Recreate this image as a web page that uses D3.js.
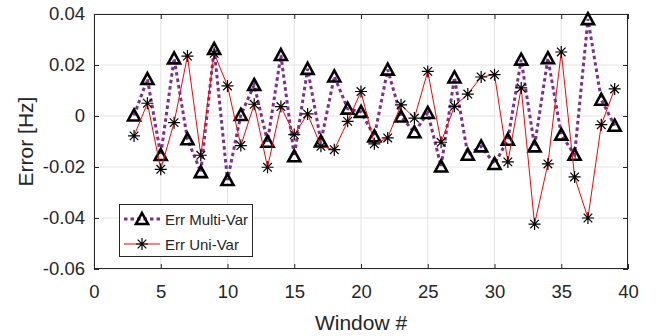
<!DOCTYPE html>
<html><head><meta charset="utf-8">
<script src="https://cdn.jsdelivr.net/npm/d3@7"></script>
<style>body{margin:0;background:#fff}svg{display:block}text{font-family:"Liberation Sans",Arial,sans-serif;fill:#262626}</style>
</head><body>
<script>
const windows = [3,4,5,6,7,8,9,10,11,12,13,14,15,16,17,18,19,20,21,22,23,24,25,26,27,28,29,30,31,32,33,34,35,36,37,38,39];
const errMulti = [0.0002,0.0145,-0.0153,0.0226,-0.0091,-0.0220,0.0263,-0.0251,0.0004,0.0122,-0.0101,0.0239,
  -0.0158,0.0185,-0.0100,0.0155,0.0029,0.0016,-0.0080,0.0182,-0.0002,-0.0064,0.0012,-0.0198,0.0151,-0.0152,
  -0.0119,-0.0188,-0.0093,0.0221,-0.0119,0.0227,-0.0073,-0.0152,0.0380,0.0064,-0.0038];
const errUni = [-0.0078,0.0050,-0.0209,-0.0026,0.0235,-0.0154,0.0246,0.0118,-0.0116,0.0046,-0.0201,0.0037,
  -0.0073,0.0008,-0.0119,-0.0132,-0.0021,0.0096,-0.0109,-0.0086,0.0044,-0.0008,0.0175,-0.0103,0.0038,0.0086,
  0.0153,0.0162,-0.0180,0.0110,-0.0424,-0.0188,0.0251,-0.0239,-0.0400,-0.0034,0.0106];
const xTicks = [0,5,10,15,20,25,30,35,40];
const yTicks = [-0.06,-0.04,-0.02,0,0.02,0.04];
const yTickLabels = ["-0.06","-0.04","-0.02","0","0.02","0.04"];
const seriesNames = ["Err Multi-Var","Err Uni-Var"];

const W=663,H=336;
const L=94,R=628,T=14,B=269;
const svg=d3.select("body").append("svg").attr("width",W).attr("height",H);
const x=d3.scaleLinear().domain([0,40]).range([L,R]);
const y=d3.scaleLinear().domain([-0.06,0.04]).range([B,T]);

// grid
const g=svg.append("g");
g.selectAll(".gx").data(xTicks).join("line").attr("x1",d=>x(d)).attr("x2",d=>x(d)).attr("y1",T).attr("y2",B).attr("stroke","#e3e3e3").attr("stroke-width",1);
g.selectAll(".gy").data(yTicks).join("line").attr("y1",d=>y(d)).attr("y2",d=>y(d)).attr("x1",L).attr("x2",R).attr("stroke","#e3e3e3").attr("stroke-width",1);

// axes
const ax=svg.append("g").attr("transform",`translate(0,${B})`).call(d3.axisBottom(x).tickValues(xTicks).tickSizeInner(-5).tickSizeOuter(0).tickPadding(15.5));
const axT=svg.append("g").attr("transform",`translate(0,${T})`).call(d3.axisTop(x).tickValues(xTicks).tickSizeInner(-5).tickSizeOuter(0).tickFormat(""));
const ay=svg.append("g").attr("transform",`translate(${L},0)`).call(d3.axisLeft(y).tickValues(yTicks).tickFormat((d,i)=>yTickLabels[i]).tickSizeInner(-5).tickSizeOuter(0).tickPadding(9));
const ayR=svg.append("g").attr("transform",`translate(${R},0)`).call(d3.axisRight(y).tickValues(yTicks).tickSizeInner(-5).tickSizeOuter(0).tickFormat(""));
[ax,axT,ay,ayR].forEach(a=>{a.select(".domain").remove();a.selectAll("line").attr("stroke","#262626");a.selectAll("text").style("font-size","18.5px").attr("fill","#262626").style("font-family","Liberation Sans, Arial, sans-serif");});
svg.append("rect").attr("x",L+0.5).attr("y",T+0.5).attr("width",R-L-1).attr("height",B-T-1).attr("fill","none").attr("stroke","#262626").attr("stroke-width",1);

// labels
svg.append("text").attr("x",(L+R)/2).attr("y",330).attr("text-anchor","middle").style("font-size","21px").text("Window #");
svg.append("text").attr("transform",`translate(33,${(T+B)/2}) rotate(-90)`).attr("text-anchor","middle").style("font-size","21px").text("Error [Hz]");

const purple="#7E2F8E";
function tri(sel){sel.attr("d","M0,-6L6,5L-6,5Z").attr("fill","none").attr("stroke","#000").attr("stroke-width",2.6).attr("stroke-linejoin","miter");}
function ast(sel){sel.attr("d","M-6,0H6M0,-6V6M-4.3,-4.3L4.3,4.3M-4.3,4.3L4.3,-4.3").attr("fill","none").attr("stroke","#000").attr("stroke-width",1.2);}

const multi=windows.map((w,i)=>[w,errMulti[i]]);
const uni=windows.map((w,i)=>[w,errUni[i]]);
const line=d3.line().x(d=>x(d[0])).y(d=>y(d[1]));
svg.append("path").datum(multi).attr("d",line).attr("fill","none").attr("stroke",purple).attr("stroke-width",3).attr("stroke-dasharray","3.5,3");
svg.selectAll(".tri").data(multi).join("path").attr("transform",d=>`translate(${x(d[0])},${y(d[1])})`).call(tri);
svg.append("path").datum(uni).attr("d",line).attr("fill","none").attr("stroke","#FF0000").attr("stroke-width",1);
svg.selectAll(".ast").data(uni).join("path").attr("transform",d=>`translate(${x(d[0])},${y(d[1])})`).call(ast);

// legend
const lg=svg.append("g");
lg.append("rect").attr("x",119.5).attr("y",204.5).attr("width",133).attr("height",52).attr("fill","#fff").attr("stroke","#262626").attr("stroke-width",1);
lg.append("line").attr("x1",124).attr("x2",160).attr("y1",219).attr("y2",219).attr("stroke",purple).attr("stroke-width",3).attr("stroke-dasharray","3.5,3");
lg.append("path").attr("transform","translate(142,219)").call(tri);
lg.append("line").attr("x1",124).attr("x2",160).attr("y1",244).attr("y2",244).attr("stroke","#FF0000").attr("stroke-width",1);
lg.append("path").attr("transform","translate(142,244)").call(ast);
lg.selectAll(".lt").data(seriesNames).join("text").attr("x",165).attr("y",(d,i)=>219+i*25+5.5).style("font-size","15px").text(d=>d);
</script>
</body></html>
